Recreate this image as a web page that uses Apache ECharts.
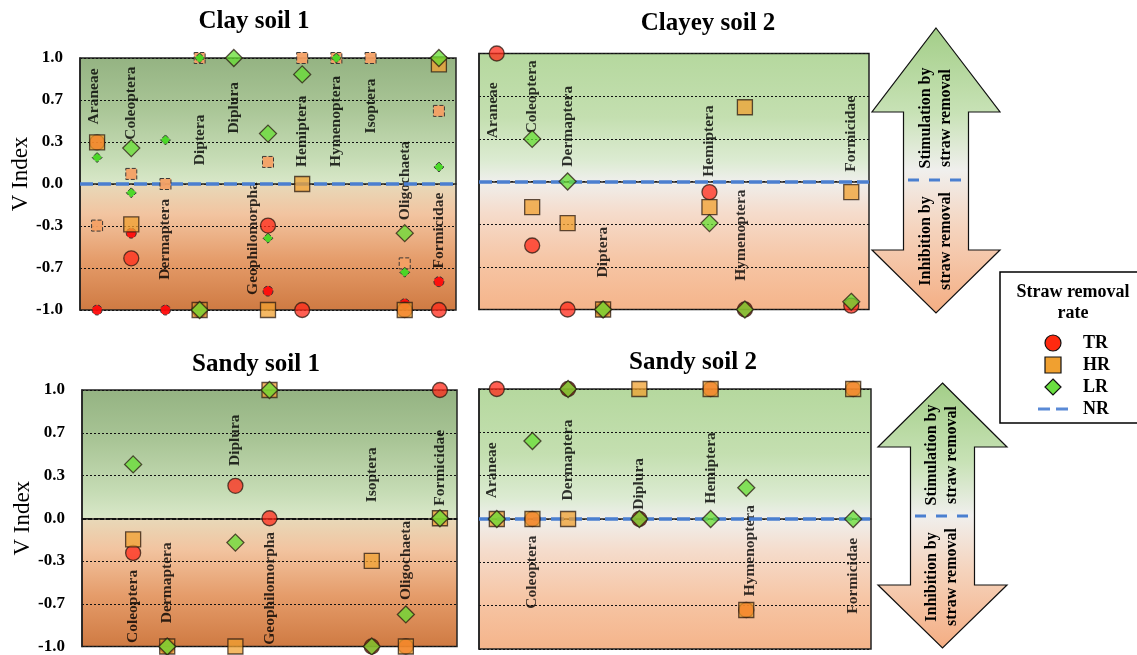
<!DOCTYPE html>
<html><head><meta charset="utf-8">
<script src="https://cdn.jsdelivr.net/npm/echarts@6/dist/echarts.min.js"></script>
<style>html,body{margin:0;padding:0;background:#fff}#c{width:1137px;height:655px}</style>
</head><body><div id="c"></div>
<script>
// ---------------- DATA ----------------
const categories = ['Araneae','Coleoptera','Dermaptera','Diptera','Diplura','Geophilomorpha','Hemiptera','Hymenoptera','Isoptera','Oligochaeta','Formicidae'];
const yTickLabels = ['-1.0','-0.7','-0.3','0.0','0.3','0.7','1.0'];
const panelTitles = ['Clay soil 1','Clayey soil 2','Sandy soil 1','Sandy soil 2'];
const legendNames = ['TR','HR','LR','NR'];

// V index per taxon (null = not present)
const clay1_TR  = [0.33, -0.59, null, -1, null, -0.33, -1, null, null, -1, -1];
const clay1_HR  = [0.33, -0.32, null, -1, null, -1, 0, null, null, -1, 0.95];
const clay1_LR  = [null, 0.285, null, -1, 1.0, 0.40, 0.87, null, null, -0.39, 1.0];
const clay1_TR2 = [-1, -0.39, -1, null, null, -0.85, null, null, null, -0.95, -0.775];
const clay1_HR2 = [-0.33, 0.08, 0, 1, null, 0.175, 1, 1, 1, -0.63, 0.58];
const clay1_LR2 = [0.21, -0.07, 0.35, 1, null, -0.43, null, 1, null, -0.70, 0.135];

const clay2_TR = [1.0, -0.5, -1, -1, null, null, -0.083, -1, null, null, -0.97];
const clay2_HR = [null, -0.2, -0.325, -1, null, null, -0.2, 0.58, null, null, -0.083];
const clay2_LR = [null, 0.333, 0, -1, null, null, -0.325, -1, null, null, -0.94];

const sandy1_TR = [null, -0.27, -1, null, 0.253, 0, null, null, -1, -1, 1.0];
const sandy1_HR = [null, -0.165, -1, null, -1, 1.0, null, null, -0.333, -1, 0];
const sandy1_LR = [null, 0.42, -1, null, -0.19, 1.0, null, null, -1, -0.75, 0];

const sandy2_TR = [1.0, 0, 1.0, null, 0, null, 1.0, -0.70, null, null, 1.0];
const sandy2_HR = [0, 0, 0, null, 1.0, null, 1.0, -0.70, null, null, 1.0];
const sandy2_LR = [0, 0.60, 1.0, null, 0, null, 0, 0.24, null, null, 0];

// where each taxon name sits (value at the start of the rotated text)
const clay1_labelAt  = [0.473, 0.352, -0.76, 0.149, 0.40, -0.88, 0.135, 0.135, 0.40, -0.287, -0.67];
const clay2_labelAt  = [0.3375, 0.376, 0.116, -0.75, null, null, 0.0375, -0.775, null, null, 0.077];
const sandy1_labelAt = [null, -0.973, -0.818, null, 0.407, -0.986, null, null, 0.124, -0.638, 0.098];
const sandy2_labelAt = [0.16, -0.69, 0.143, null, 0.072, null, 0.118, -0.595, null, null, -0.728];

// ---------------- LAYOUT / STYLE ----------------
const SERIF = "'Times New Roman','Liberation Serif',serif";
const grids = [
  {left: 80, top: 58, width: 376, height: 252},
  {left: 479, top: 53.5, width: 390, height: 256},
  {left: 82, top: 390, width: 375, height: 258},
  {left: 479, top: 389, width: 392, height: 260}
];
const labelDx = [{5:-15, 0:-3}, {0:-4, 7:-4}, {}, {0:-5, 7:4}];
const titlePos = [[254, 22], [708, 24], [256, 365], [693, 363]];

const darkBg = {type:'linear', x:0, y:0, x2:0, y2:1, colorStops:[
  {offset:0, color:'#94b382'}, {offset:0.2, color:'#a9c596'}, {offset:0.4, color:'#c6dcb5'},
  {offset:0.495, color:'#d8e7c8'}, {offset:0.505, color:'#e8d8b8'}, {offset:0.62, color:'#f2c4a0'},
  {offset:0.8, color:'#e59c6a'}, {offset:1, color:'#cf7a42'}]};
const lightBg = {type:'linear', x:0, y:0, x2:0, y2:1, colorStops:[
  {offset:0, color:'#b5d89e'}, {offset:0.25, color:'#c4dfb0'}, {offset:0.42, color:'#dcebd2'},
  {offset:0.5, color:'#efefec'}, {offset:0.62, color:'#f5dccc'}, {offset:0.8, color:'#f6c6a6'},
  {offset:1, color:'#f5b48a'}]};
const bgs = [darkBg, lightBg, darkBg, lightBg];

const COL = {TR:'#ff2a1a', HR:'#f0a030', LR:'#66dd33'};
const SYM = {TR:'circle', HR:'rect', LR:'diamond'};

const panels = [
  {TR: clay1_TR, HR: clay1_HR, LR: clay1_LR, small: {TR: clay1_TR2, HR: clay1_HR2, LR: clay1_LR2}, labels: clay1_labelAt},
  {TR: clay2_TR, HR: clay2_HR, LR: clay2_LR, labels: clay2_labelAt},
  {TR: sandy1_TR, HR: sandy1_HR, LR: sandy1_LR, labels: sandy1_labelAt},
  {TR: sandy2_TR, HR: sandy2_HR, LR: sandy2_LR, labels: sandy2_labelAt}
];

function pairs(arr){ const out=[]; arr.forEach((v,i)=>{ if(v!==null) out.push([i,v]); }); return out; }

const option = {
  animation: false,
  grid: [], xAxis: [], yAxis: [], series: [], graphic: []
};

panels.forEach((p, k) => {
  option.grid.push(Object.assign({show:true, backgroundColor: bgs[k], borderColor:'#222', borderWidth:1.5}, grids[k]));
  option.xAxis.push({type:'category', gridIndex:k, data: categories, boundaryGap:true,
    axisLine:{show:true, lineStyle:{color:'#222', width:1.5}}, axisTick:{show:false}, axisLabel:{show:false}, splitLine:{show:false}});
  const showLab = (k === 0 || k === 2);
  option.yAxis.push({type:'value', gridIndex:k, min:-1, max:1, interval:1/3,
    name: showLab ? 'V Index' : '', nameLocation:'middle', nameGap: 48,
    nameTextStyle:{fontFamily:SERIF, fontSize:23, color:'#000', padding: k===0 ? [0,0,0,20] : [0,0,0,0]},
    axisLine:{show:true, lineStyle:{color:'#222', width:1.5}}, axisTick:{show:false},
    axisLabel:{show: showLab, margin: 17, fontFamily:SERIF, fontWeight:'bold', fontSize:17, color:'#000',
      formatter: v => yTickLabels[Math.round((v + 1) * 3)]},
    splitLine:{show:true, lineStyle:{color:'#111', width:1, type:[2,2]}}});

  // NR reference line
  option.series.push({type:'line', name:'NR', xAxisIndex:k, yAxisIndex:k, data:[], symbol:'none',
    lineStyle:{color: k===2 ? '#111' : '#4a7fd0', width:3, type:[12,5]},
    markLine:{silent:true, symbol:'none', label:{show:false}, animation:false,
      lineStyle: k===2 ? {color:'#111', width:2, type:[4,2]} : {color:'#4a7fd0', width:3.5, type:[13,5]},
      data:[{yAxis:0}]}, z:3});

  // taxon names
  option.series.push({type:'scatter', name:'taxa', xAxisIndex:k, yAxisIndex:k, silent:true, symbolSize:1,
    itemStyle:{color:'rgba(0,0,0,0)'}, z:4,
    data: pairs(p.labels).map(d => ({value:d, label: labelDx[k][d[0]] ? {offset:[0, labelDx[k][d[0]]]} : undefined})),
    label:{show:true, position:'inside', rotate:90, align:'left', verticalAlign:'middle',
      fontFamily:SERIF, fontWeight:'bold', fontSize:15.5, color:'#000',
      formatter: q => categories[q.value[0]]}});

  if (p.small) {
    ['TR','HR','LR'].forEach(n => {
      option.series.push({type:'scatter', name:n, xAxisIndex:k, yAxisIndex:k, symbol:SYM[n],
        symbolSize: n==='HR' ? 11 : 10, clip:false, z:5,
        itemStyle:{color: n==='TR' ? '#ff0a0a' : (n==='HR' ? '#f4a064' : '#44d822'), opacity: 0.95,
          borderColor:'#333', borderWidth:1, borderType:'dashed'},
        data: pairs(p.small[n])});
    });
  }
  ['TR','HR','LR'].forEach(n => {
    option.series.push({type:'scatter', name:n, xAxisIndex:k, yAxisIndex:k, symbol:SYM[n],
      symbolSize: n==='LR' ? 17 : 15, clip:false, z:6,
      itemStyle:{color: COL[n], opacity: 0.75, borderColor:'#2a1a10', borderWidth:1.3},
      data: pairs(p[n])});
  });

  option.graphic.push({type:'text', x: titlePos[k][0], y: titlePos[k][1], silent:true,
    style:{text: panelTitles[k], fill:'#000', font: `bold 25px ${SERIF}`, textAlign:'center', textVerticalAlign:'middle'}});
});

// legend
option.legend = {orient:'vertical', left:1033, top:329, itemWidth:30, itemHeight:16, itemGap:4,
  selectedMode:false, symbolKeepAspect:true,
  textStyle:{fontFamily:SERIF, fontWeight:'bold', fontSize:18, color:'#000', padding:[0,0,0,10]},
  data:[
    {name:'TR', icon:'circle', itemStyle:{color:'#ff2a10', borderColor:'#111', borderWidth:1.2, opacity:1}},
    {name:'HR', icon:'path://M0,0h10v10h-10z', itemStyle:{color:'#f0a030', borderColor:'#111', borderWidth:1.2, opacity:1}},
    {name:'LR', icon:'path://M5,0L10,5L5,10L0,5z', itemStyle:{color:'#6ae040', borderColor:'#111', borderWidth:1.2, opacity:1}},
    {name:'NR', icon:'path://M0,6h12v3h-12z M18,6h12v3h-12z', itemStyle:{color:'#5a8ad6', borderWidth:0, opacity:1}}
  ]};

option.graphic.push(
  {type:'rect', silent:true, shape:{x:1000, y:272, width:145, height:151}, style:{fill:'none', stroke:'#000', lineWidth:1.5}},
  {type:'text', x:1073, y:303, silent:true, style:{text:'Straw removal\nrate', fill:'#000', font:`bold 18px ${SERIF}`,
    lineHeight:21, textAlign:'center', textVerticalAlign:'middle'}}
);

// double arrows
const arrowFill = {type:'linear', x:0, y:0, x2:0, y2:1, colorStops:[
  {offset:0, color:'#a3ce88'}, {offset:0.3, color:'#c8e2b6'}, {offset:0.5, color:'#f0efed'},
  {offset:0.7, color:'#f5d4be'}, {offset:1, color:'#f4ad82'}]};
function arrow(cx, tip1, base1, base2, tip2, hw, sw){
  return {type:'polygon', silent:true, shape:{points:[
    [cx, tip1], [cx+hw, base1], [cx+sw, base1], [cx+sw, base2], [cx+hw, base2], [cx, tip2],
    [cx-hw, base2], [cx-sw, base2], [cx-sw, base1], [cx-hw, base1]]},
    style:{fill: arrowFill, stroke:'#111', lineWidth:1.2}};
}
option.graphic.push(
  arrow(936, 28, 112, 250, 313, 64, 32.5),
  arrow(942.5, 383, 447, 585, 648, 64.5, 32),
  {type:'line', silent:true, shape:{x1:908, y1:180, x2:963, y2:180}, style:{stroke:'#4a7fd0', lineWidth:3, lineDash:[11,10]}},
  {type:'line', silent:true, shape:{x1:915, y1:516, x2:968, y2:516}, style:{stroke:'#4a7fd0', lineWidth:3, lineDash:[11,10]}},
  {type:'text', x:936, y:118, rotation:Math.PI/2, silent:true, style:{text:'Stimulation by\nstraw removal', fill:'#000', font:`bold 16px ${SERIF}`, lineHeight:20, textAlign:'center', textVerticalAlign:'middle'}},
  {type:'text', x:936, y:241, rotation:Math.PI/2, silent:true, style:{text:'Inhibition by\nstraw removal', fill:'#000', font:`bold 16px ${SERIF}`, lineHeight:20, textAlign:'center', textVerticalAlign:'middle'}},
  {type:'text', x:942, y:455, rotation:Math.PI/2, silent:true, style:{text:'Stimulation by\nstraw removal', fill:'#000', font:`bold 16px ${SERIF}`, lineHeight:20, textAlign:'center', textVerticalAlign:'middle'}},
  {type:'text', x:942, y:577, rotation:Math.PI/2, silent:true, style:{text:'Inhibition by\nstraw removal', fill:'#000', font:`bold 16px ${SERIF}`, lineHeight:20, textAlign:'center', textVerticalAlign:'middle'}}
);

const chart = echarts.init(document.getElementById('c'), null, {renderer:'canvas'});
chart.setOption(option);
</script></body></html>
